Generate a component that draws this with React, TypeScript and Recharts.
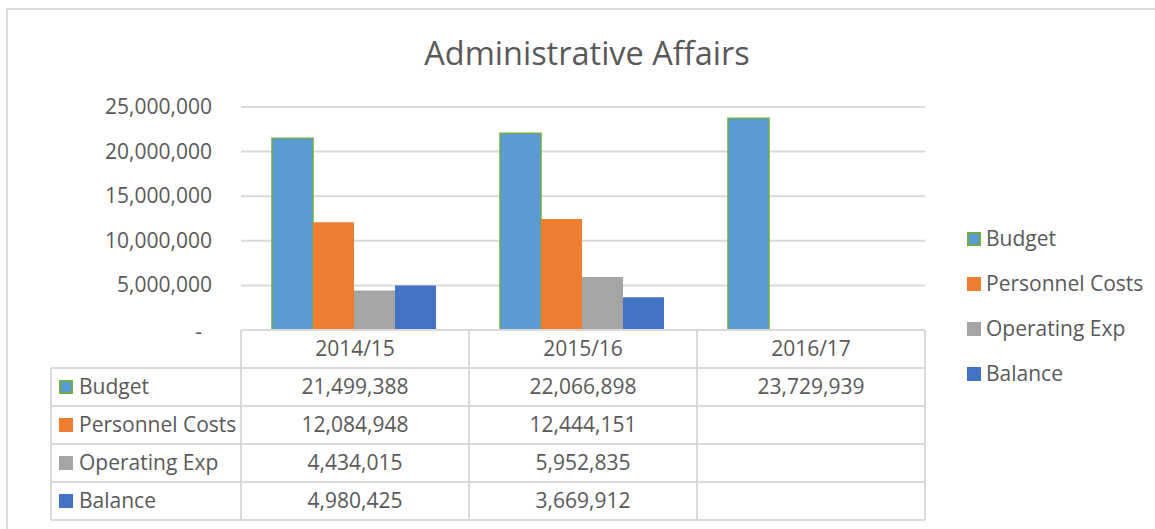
import React from 'react';
import { BarChart, Bar, XAxis, YAxis, CartesianGrid } from 'recharts';

const categories = ['2014/15', '2015/16', '2016/17'];
const budget = [21499388, 22066898, 23729939];
const personnelCosts = [12084948, 12444151, null];
const operatingExp = [4434015, 5952835, null];
const balance = [4980425, 3669912, null];
const yTicks = [0, 5000000, 10000000, 15000000, 20000000, 25000000];

const seriesNames = ['Budget', 'Personnel Costs', 'Operating Exp', 'Balance'];
const seriesKeys = ['budget', 'personnel', 'operating', 'balance'];
const seriesValues = [budget, personnelCosts, operatingExp, balance];
const colors = ['#5B9BD5', '#ED7D31', '#A5A5A5', '#4472C4'];
const budgetStroke = '#70AD47';

const data = categories.map((c, i) => ({
  category: c,
  budget: budget[i],
  personnel: personnelCosts[i],
  operating: operatingExp[i],
  balance: balance[i],
}));

const FONT = '"Open Sans", sans-serif';
const TEXT = '#595959';
const LINE = '#d9d9d9';
const W = 1155;
const H = 529;
const XH = 199;
const M = { top: 107, right: 230, bottom: 0, left: 41 };
const YW = 200;
const PLOT_W = W - M.left - YW - M.right;
const HALF = PLOT_W / categories.length / 2;
const ROW_H = 38;
const LABEL_COL_W = 190;

const fmt = (v: number | null) => (v == null ? '' : v.toLocaleString('en-US'));

const YTick = (props: any) => {
  const { x, y, payload } = props;
  const isZero = payload.value === 0;
  return (
    <text
      x={isZero ? x - 10 : x}
      y={y}
      dy={isZero ? 9 : 7}
      textAnchor="end"
      fill={TEXT}
      fontSize={21}
      fontFamily={FONT}
    >
      {isZero ? '-' : fmt(payload.value)}
    </text>
  );
};

const Marker = ({ x, y, i }: { x: number; y: number; i: number }) =>
  i === 0 ? (
    <rect x={x + 1} y={y + 1} width={12} height={12} fill={colors[0]} stroke={budgetStroke} strokeWidth={2} />
  ) : (
    <rect x={x} y={y} width={14} height={14} fill={colors[i]} />
  );

const XTick = (props: any) => {
  const { x, y, payload, index } = props;
  const left = x - HALF;
  const right = x + HALF;
  const bottom = y + ROW_H * (seriesNames.length + 1);
  const ci = categories.indexOf(payload.value);
  const els: React.ReactNode[] = [];
  els.push(<line key="vr" x1={right} x2={right} y1={y} y2={bottom} stroke={LINE} strokeWidth={2} />);
  if (index === 0) {
    els.push(<line key="vl" x1={left} x2={left} y1={y} y2={bottom} stroke={LINE} strokeWidth={2} />);
    const lx = left - LABEL_COL_W;
    els.push(<line key="vll" x1={lx} x2={lx} y1={y + ROW_H} y2={bottom} stroke={LINE} strokeWidth={2} />);
    seriesNames.forEach((name, i) => {
      const ry = y + ROW_H * (i + 1);
      els.push(<line key={'lh' + i} x1={lx} x2={left} y1={ry} y2={ry} stroke={LINE} strokeWidth={2} />);
      els.push(<Marker key={'lm' + i} x={lx + 8} y={ry + ROW_H / 2 - 7} i={i} />);
      els.push(
        <text key={'lt' + i} x={lx + 28} y={ry + ROW_H / 2} dy={7} fill={TEXT} fontSize={21} fontFamily={FONT}>
          {name}
        </text>
      );
    });
    els.push(<line key="lhb" x1={lx} x2={left} y1={bottom} y2={bottom} stroke={LINE} strokeWidth={2} />);
  }
  els.push(
    <text key="hdr" x={x} y={y + ROW_H / 2} dy={7} textAnchor="middle" fill={TEXT} fontSize={21} fontFamily={FONT}>
      {payload.value}
    </text>
  );
  seriesValues.forEach((vals, i) => {
    const ry = y + ROW_H * (i + 1);
    els.push(<line key={'h' + i} x1={left} x2={right} y1={ry} y2={ry} stroke={LINE} strokeWidth={2} />);
    els.push(
      <text key={'v' + i} x={x} y={ry + ROW_H / 2} dy={7} textAnchor="middle" fill={TEXT} fontSize={21} fontFamily={FONT}>
        {fmt(vals[ci])}
      </text>
    );
  });
  els.push(<line key="hb" x1={left} x2={right} y1={bottom} y2={bottom} stroke={LINE} strokeWidth={2} />);
  return <g>{els}</g>;
};

const LegendBox = () => (
  <div style={{ position: 'absolute', left: 967, top: 216, fontFamily: FONT, fontSize: 21, color: TEXT }}>
    {seriesNames.map((name, i) => (
      <div key={name} style={{ height: 45, display: 'flex', alignItems: 'center', whiteSpace: 'nowrap' }}>
        <svg width={19} height={14} style={{ flex: 'none' }}>
          <Marker x={0} y={0} i={i} />
        </svg>
        <span style={{ lineHeight: '45px' }}>{name}</span>
      </div>
    ))}
  </div>
);

export default function App() {
  return (
    <div style={{ position: 'absolute', left: 0, top: 0, width: W, height: H, overflow: 'hidden', background: '#fff' }}>
      <div
        style={{
          position: 'absolute',
          left: 6,
          top: 8,
          width: W + 20,
          height: H + 20,
          border: `2px solid ${LINE}`,
          boxSizing: 'border-box',
        }}
      />
      <div
        style={{
          position: 'absolute',
          left: 0,
          width: 1174,
          top: 31,
          textAlign: 'center',
          fontFamily: FONT,
          fontSize: 32.5,
          color: TEXT,
          lineHeight: '44px',
        }}
      >
        Administrative Affairs
      </div>
      <div style={{ position: 'absolute', left: 0, top: 0 }}>
        <BarChart width={W} height={H} data={data} margin={M} barCategoryGap="13.6%" barGap={0}>
          <CartesianGrid vertical={false} stroke={LINE} strokeWidth={2} />
          <XAxis
            dataKey="category"
            height={XH}
            axisLine={{ stroke: LINE, strokeWidth: 2 }}
            tickLine={false}
            tickSize={0}
            tickMargin={0}
            tick={<XTick />}
            interval={0}
          />
          <YAxis
            width={YW}
            domain={[0, 25000000]}
            ticks={yTicks}
            axisLine={false}
            tickLine={false}
            tickSize={0}
            tickMargin={29}
            tick={<YTick />}
            interval={0}
          />
          {seriesKeys.map((k, i) => (
            <Bar
              key={k}
              dataKey={k}
              name={seriesNames[i]}
              fill={colors[i]}
              stroke={i === 0 ? budgetStroke : undefined}
              strokeWidth={i === 0 ? 1.5 : 0}
              isAnimationActive={false}
            />
          ))}
        </BarChart>
      </div>
      <LegendBox />
    </div>
  );
}
